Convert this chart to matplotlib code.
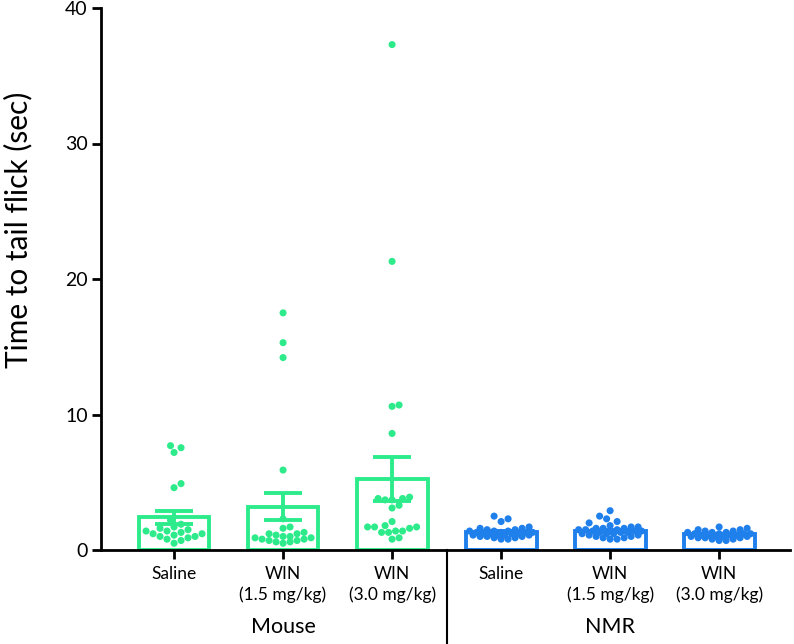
import numpy as np
import matplotlib
matplotlib.use("Agg")
import matplotlib.pyplot as plt
from matplotlib.transforms import blended_transform_factory

plt.rcParams['font.family'] = ['Lato', 'DejaVu Sans']

# ---- data ----
categories = ["Saline", "WIN\n(1.5 mg/kg)", "WIN\n(3.0 mg/kg)",
              "Saline", "WIN\n(1.5 mg/kg)", "WIN\n(3.0 mg/kg)"]
species = ["Mouse", "NMR"]

mouse_saline = [7.7, 7.55, 7.2, 4.9, 4.6, 2.2, 1.9, 1.7, 1.6, 1.5, 1.4, 1.4,
                1.3, 1.2, 1.2, 1.1, 1.0, 1.0, 0.9, 0.8, 0.7, 0.5]
mouse_win15 = [17.5, 15.3, 14.2, 5.9, 2.3, 1.7, 1.6, 1.3, 1.2, 1.2, 1.1, 1.0,
               1.0, 0.9, 0.9, 0.8, 0.8, 0.7, 0.7, 0.6, 0.6, 0.5]
mouse_win30 = [37.3, 21.3, 10.7, 10.6, 8.6, 3.9, 3.8, 3.8, 3.7, 3.7, 3.3, 3.1,
               2.1, 1.8, 1.7, 1.7, 1.7, 1.6, 1.4, 1.4, 1.3, 1.3, 0.9, 0.8]
nmr_saline = [2.5, 2.3, 2.1, 1.7, 1.6, 1.6, 1.5, 1.5, 1.4, 1.4, 1.4, 1.3, 1.3,
              1.3, 1.3, 1.2, 1.2, 1.2, 1.2, 1.1, 1.1, 1.1, 1.1, 1.0, 1.0, 1.0,
              0.9, 0.9, 0.8, 0.8]
nmr_win15 = [2.9, 2.5, 2.3, 2.1, 2.0, 1.8, 1.7, 1.7, 1.6, 1.6, 1.6, 1.5, 1.5,
             1.5, 1.4, 1.4, 1.4, 1.4, 1.3, 1.3, 1.3, 1.2, 1.2, 1.2, 1.1, 1.1,
             1.0, 1.0, 0.9, 0.9, 0.8, 0.8]
nmr_win30 = [1.7, 1.6, 1.5, 1.5, 1.4, 1.4, 1.3, 1.3, 1.3, 1.2, 1.2, 1.2, 1.2,
             1.1, 1.1, 1.1, 1.1, 1.0, 1.0, 1.0, 1.0, 0.9, 0.9, 0.9, 0.8, 0.8,
             0.7, 0.7]
bar_means = [2.4, 3.2, 5.25, 1.3, 1.4, 1.15]
bar_sems = [0.5, 1.0, 1.65, 0.07, 0.07, 0.05]

groups = [mouse_saline, mouse_win15, mouse_win30, nmr_saline, nmr_win15, nmr_win30]
green = "#2DEB8B"
blue = "#1F80EC"
colors = [green, green, green, blue, blue, blue]

# ---- figure ----
W, H, DPI = 794, 644, 100
AX_TOP_PX, AX_BOT_PX = 8, 550
AX_H = AX_BOT_PX - AX_TOP_PX
fig = plt.figure(figsize=(W / DPI, H / DPI), dpi=DPI)
ax = fig.add_axes([101 / W, (H - AX_BOT_PX) / H, 689 / W, AX_H / H])
xlim = (-0.67, 5.65)
ylim = (0, 40)
ax.set_xlim(*xlim)
ax.set_ylim(*ylim)

px_per_x = 689 / (xlim[1] - xlim[0])
px_per_y = AX_H / (ylim[1] - ylim[0])


def swarm(values, diam_px=7.0, max_px=33):
    """Simple beeswarm: returns x offsets (data units) for values."""
    order = np.argsort(values)
    placed = []
    offs = np.zeros(len(values))
    step = diam_px * 0.5
    cands = [0.0]
    k = 0
    while (k + 1) * step <= max_px:
        k += 1
        cands += [k * step, -k * step]
    for i in order:
        y = values[i] * px_per_y
        chosen = None
        for c in cands:
            if all((c - px) ** 2 + (y - py) ** 2 >= diam_px ** 2 for px, py in placed):
                chosen = c
                break
        if chosen is None:
            best_d, best = -1, 0.0
            for c in cands:
                d = min(((c - px) ** 2 + (y - py) ** 2) for px, py in placed)
                if d > best_d:
                    best_d, best = d, c
            chosen = best
        placed.append((chosen, y))
        offs[i] = chosen / px_per_x
    return offs


xpos = np.arange(len(groups))
bar_w = 0.65

ax.bar(xpos, bar_means, width=bar_w, facecolor="white", edgecolor=colors,
       linewidth=2.8, zorder=1)

for x, vals, c in zip(xpos, groups, colors):
    v = np.asarray(vals, dtype=float)
    offs = swarm(v)
    ax.scatter(x + offs, v, s=26, color=c, edgecolors="none", zorder=2)

for x, m, s, c in zip(xpos, bar_means, bar_sems, colors):
    ax.errorbar(x, m, yerr=s, fmt="none", ecolor=c, elinewidth=2.8,
                capsize=14, capthick=2.8, zorder=3)

# spines / ticks
for sp in ["top", "right"]:
    ax.spines[sp].set_visible(False)
for sp in ["left", "bottom"]:
    ax.spines[sp].set_linewidth(2.0)
    ax.spines[sp].set_zorder(5)

ax.set_yticks([0, 10, 20, 30, 40])
ax.tick_params(axis="y", length=6.5, width=2.0, labelsize=14, pad=3)
ax.set_xticks(xpos)
ax.set_xticklabels(categories, fontsize=12.5, linespacing=1.35)
ax.tick_params(axis="x", length=6.5, width=2.0, pad=5)
for lab in ax.get_xticklabels():
    lab.set_verticalalignment("top")

fig.text(18 / W, 1 - 230 / H, "Time to tail flick (sec)", rotation=90,
         ha="center", va="center", fontsize=21.5)

# group labels and divider
tr = blended_transform_factory(ax.transData, ax.transAxes)
ax.text(1, -77 / AX_H, species[0], transform=tr, ha="center", va="center",
        fontsize=15.5)
ax.text(4, -77 / AX_H, species[1], transform=tr, ha="center", va="center",
        fontsize=15.5)
ax.plot([2.5, 2.5], [0, -100 / AX_H], transform=tr, color="black",
        linewidth=1.5, clip_on=False)

fig.savefig("out.png", dpi=DPI)
